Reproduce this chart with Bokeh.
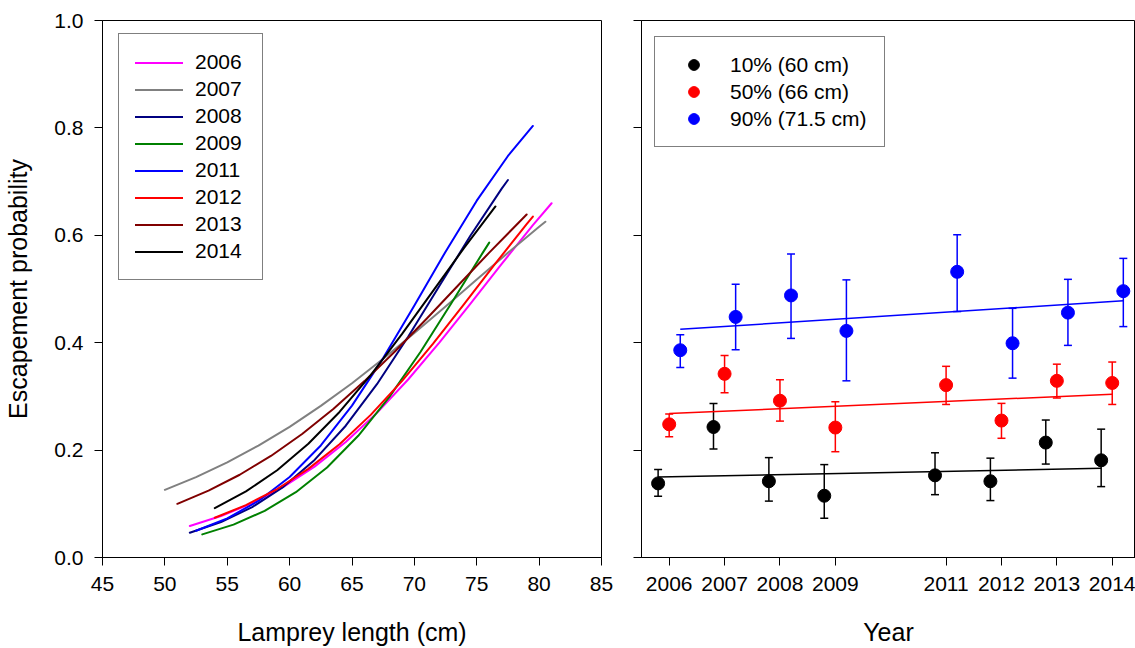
from bokeh.plotting import figure
from bokeh.layouts import row
from bokeh.models import (Range1d, FixedTicker, Legend, LegendItem, Whisker, TeeHead,
                          ColumnDataSource, PrintfTickFormatter)
from bokeh.embed import file_html
from bokeh.resources import INLINE

FONT = "Liberation Sans"

# ---------------- Left panel: escapement curves ----------------
curve_labels = ["2006", "2007", "2008", "2009", "2011", "2012", "2013", "2014"]
curve_colors = ["#FF00FF", "#808080", "#000080", "#008000", "#0000FF", "#FF0000", "#800000", "#000000"]

L_2006 = [52, 54.5, 57, 59.5, 62, 64.5, 67, 69.5, 72, 74.5, 77, 79.5, 81]
P_2006 = [0.0586, 0.0772, 0.1012, 0.1315, 0.1692, 0.2151, 0.2693, 0.3315, 0.4001, 0.4729, 0.5469, 0.6188, 0.6597]
L_2007 = [50, 52.5, 55, 57.5, 60, 62.5, 65, 67.5, 70, 72.5, 75, 77.5, 80, 80.5]
P_2007 = [0.126, 0.1498, 0.1772, 0.2084, 0.2434, 0.2823, 0.3246, 0.3701, 0.4180, 0.4675, 0.5176, 0.5674, 0.6159, 0.6253]
L_2008 = [52, 54.5, 57, 59.5, 62, 64.5, 67, 69.5, 72, 74.5, 77, 77.5]
P_2008 = [0.046, 0.066, 0.0938, 0.1316, 0.1817, 0.2454, 0.3227, 0.411, 0.5055, 0.5996, 0.6869, 0.7030]
L_2009 = [53, 55.5, 58, 60.5, 63, 65.5, 68, 70.5, 73, 75.5, 76]
P_2009 = [0.043, 0.0613, 0.0869, 0.1216, 0.1677, 0.2267, 0.2991, 0.3831, 0.4748, 0.5682, 0.5864]
L_2011 = [52.5, 55, 57.5, 60, 62.5, 65, 67.5, 70, 72.5, 75, 77.5, 79.5]
P_2011 = [0.0499, 0.0729, 0.1053, 0.1498, 0.2086, 0.2829, 0.3713, 0.4692, 0.5695, 0.6645, 0.7477, 0.8036]
L_2012 = [54, 56.5, 59, 61.5, 64, 66.5, 69, 71.5, 74, 76.5, 79, 79.5]
P_2012 = [0.074, 0.0975, 0.1275, 0.1651, 0.211, 0.2656, 0.3285, 0.3982, 0.4723, 0.5476, 0.6208, 0.6349]
L_2013 = [51, 53.5, 56, 58.5, 61, 63.5, 66, 68.5, 71, 73.5, 76, 79]
P_2013 = [0.100, 0.1246, 0.1541, 0.1891, 0.2299, 0.2765, 0.3285, 0.3851, 0.445, 0.5065, 0.5678, 0.6386]
L_2014 = [54, 56.5, 59, 61.5, 64, 66.5, 69, 71.5, 74, 76.5]
P_2014 = [0.092, 0.123, 0.1625, 0.2117, 0.271, 0.3397, 0.4159, 0.4964, 0.577, 0.6537]

curve_lengths = [L_2006, L_2007, L_2008, L_2009, L_2011, L_2012, L_2013, L_2014]
curve_probs = [P_2006, P_2007, P_2008, P_2009, P_2011, P_2012, P_2013, P_2014]

length_ticks = [45, 50, 55, 60, 65, 70, 75, 80, 85]
prob_ticks = [0.0, 0.2, 0.4, 0.6, 0.8, 1.0]

# ---------------- Right panel: escapement by year ----------------
years = [2006, 2007, 2008, 2009, 2011, 2012, 2013, 2014]
p10 = [0.138, 0.243, 0.142, 0.115, 0.153, 0.142, 0.214, 0.181]
p10_lo = [0.114, 0.202, 0.105, 0.073, 0.117, 0.106, 0.174, 0.132]
p10_hi = [0.164, 0.287, 0.186, 0.173, 0.195, 0.185, 0.256, 0.239]
p50 = [0.248, 0.342, 0.292, 0.242, 0.321, 0.255, 0.329, 0.325]
p50_lo = [0.225, 0.307, 0.254, 0.197, 0.285, 0.222, 0.297, 0.285]
p50_hi = [0.267, 0.376, 0.331, 0.290, 0.356, 0.287, 0.360, 0.364]
p90 = [0.386, 0.448, 0.488, 0.422, 0.532, 0.399, 0.456, 0.496]
p90_lo = [0.354, 0.387, 0.408, 0.329, 0.458, 0.334, 0.395, 0.430]
p90_hi = [0.415, 0.509, 0.565, 0.517, 0.601, 0.464, 0.518, 0.557]
# fitted trend (value at first and last year)
trend10 = [0.150, 0.166]
trend50 = [0.268, 0.304]
trend90 = [0.425, 0.478]

series_labels = ["10% (60 cm)", "50% (66 cm)", "90% (71.5 cm)"]
series_colors = ["#000000", "#FF0000", "#0000FF"]
series_offsets = [-0.2, 0.0, 0.2]


def style_axes(p):
    p.background_fill_color = "white"
    p.border_fill_color = "white"
    p.outline_line_color = "black"
    p.outline_line_width = 1
    p.xgrid.visible = False
    p.ygrid.visible = False
    for ax in (p.xaxis[0], p.yaxis[0]):
        ax.axis_line_color = "black"
        ax.axis_line_width = 1
        ax.major_tick_in = 0
        ax.major_tick_out = 8
        ax.minor_tick_in = 0
        ax.minor_tick_out = 0
        ax.major_tick_line_color = "black"
        ax.major_label_text_font = FONT
        ax.major_label_text_font_size = "21px"
        ax.major_label_text_color = "black"
        ax.axis_label_text_font = FONT
        ax.axis_label_text_font_size = "25px"
        ax.axis_label_text_font_style = "normal"
        ax.axis_label_text_color = "black"


# ---- left figure ----
p1 = figure(width=621, height=648, x_range=Range1d(45, 85), y_range=Range1d(0, 1),
            output_backend="svg", toolbar_location=None,
            min_border_left=102, min_border_right=20, min_border_top=20, min_border_bottom=91)
style_axes(p1)
p1.xaxis.ticker = FixedTicker(ticks=length_ticks)
p1.yaxis.ticker = FixedTicker(ticks=prob_ticks)
p1.yaxis.formatter = PrintfTickFormatter(format="%.1f")
p1.xaxis.axis_label = "Lamprey length (cm)"
p1.yaxis.axis_label = "Escapement probability"
p1.xaxis.major_label_standoff = 11
p1.xaxis.axis_label_standoff = 24
p1.yaxis.major_label_standoff = 11
p1.yaxis.axis_label_standoff = 19

items1 = []
for lab, col, xs, ys in zip(curve_labels, curve_colors, curve_lengths, curve_probs):
    r = p1.line(xs, ys, line_color=col, line_width=2, line_join="round", line_cap="round")
    items1.append(LegendItem(label=lab, renderers=[r]))

leg1 = Legend(items=items1, location=(16, 277), margin=0, padding=16, spacing=3,
              glyph_width=48, glyph_height=23, label_height=23, label_width=51,
              label_standoff=12, label_text_font=FONT, label_text_font_size="21px",
              label_text_color="black", border_line_color="black", border_line_width=1,
              background_fill_color="white", background_fill_alpha=1)
p1.add_layout(leg1)

# ---- right figure ----
p2 = figure(width=514, height=648, x_range=Range1d(2005.5, 2014.42), y_range=Range1d(0, 1),
            output_backend="svg", toolbar_location=None,
            min_border_left=20, min_border_right=0, min_border_top=20, min_border_bottom=91)
style_axes(p2)
p2.xaxis.ticker = FixedTicker(ticks=years)
p2.yaxis.ticker = FixedTicker(ticks=prob_ticks)
p2.yaxis.major_label_overrides = {t: "" for t in prob_ticks}
p2.xaxis.axis_label = "Year"
p2.xaxis.major_label_standoff = 11
p2.xaxis.axis_label_standoff = 24

series_vals = [p10, p50, p90]
series_lo = [p10_lo, p50_lo, p90_lo]
series_hi = [p10_hi, p50_hi, p90_hi]
trends = [trend10, trend50, trend90]

items2 = []
for lab, col, off, vals, lo, hi, tr in zip(series_labels, series_colors, series_offsets,
                                            series_vals, series_lo, series_hi, trends):
    xs = [y + off for y in years]
    src = ColumnDataSource(dict(x=xs, y=vals, lo=lo, hi=hi))
    w = Whisker(source=src, base="x", upper="hi", lower="lo", line_color=col, line_width=1.5,
                upper_head=TeeHead(size=8, line_color=col, line_width=1.5),
                lower_head=TeeHead(size=8, line_color=col, line_width=1.5))
    w.level = "underlay"
    p2.add_layout(w)
    p2.line([years[0] + off, years[-1] + off], tr, line_color=col, line_width=1.5)
    r = p2.scatter("x", "y", source=src, size=13, fill_color=col, line_color=col, marker="circle")
    items2.append(LegendItem(label=lab, renderers=[r]))

leg2 = Legend(items=items2, location=(13, 410), margin=0, padding=14, spacing=0,
              glyph_width=49, glyph_height=27, label_height=27, label_width=140,
              label_standoff=12, label_text_font=FONT, label_text_font_size="21px",
              label_text_color="black", border_line_color="black", border_line_width=1,
              background_fill_color="white", background_fill_alpha=1)
p2.add_layout(leg2)

layout = row(p1, p2)
open("out.html", "w").write(file_html(layout, INLINE))
